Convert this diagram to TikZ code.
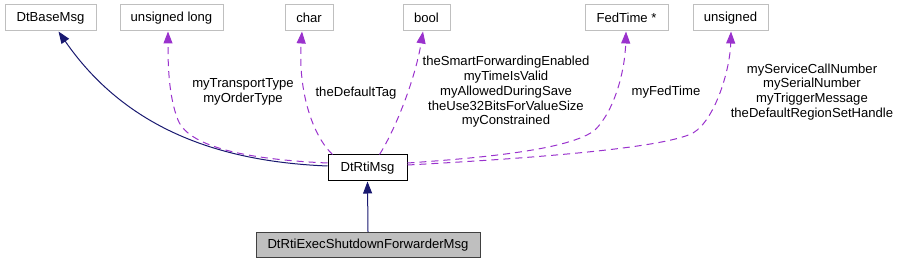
\documentclass[tikz,border=0pt]{standalone}
\usepackage{fontspec}
\setmainfont{Liberation Sans}
\usetikzlibrary{arrows.meta}
\definecolor{navyedge}{HTML}{191970}
\definecolor{orchidedge}{HTML}{9A32CD}
\definecolor{boxgrey}{HTML}{BFBFBF}
\definecolor{focusborder}{HTML}{404040}
\newcommand{\lblfont}{\fontsize{13.1}{14.8}\selectfont}
\tikzset{
  typebox/.style={draw=boxgrey, fill=white, line width=1pt, minimum height=26pt, inner sep=0pt, font=\lblfont},
  classbox/.style={draw=black, fill=white, line width=1pt, minimum height=26pt, inner sep=0pt, font=\lblfont},
  focusbox/.style={draw=focusborder, fill=boxgrey, line width=1pt, minimum height=25pt, inner sep=0pt, font=\lblfont},
  inherit/.style={draw=navyedge, line width=1pt, -{Triangle[length=12pt,width=9pt]}},
  member/.style={draw=orchidedge, line width=1pt, dash pattern=on 7pt off 5pt, -{Triangle[length=12pt,width=9pt]}},
  edgelabel/.style={align=center, inner sep=0pt, font=\lblfont}
}
\begin{document}
\begin{tikzpicture}[x=1pt,y=-1pt]
\useasboundingbox (0,0) rectangle (899,264);
% type / base boxes
\node[typebox, minimum width=91pt] (base) at (50.5,18) {DtBaseMsg};
\node[typebox, minimum width=103pt] (ulong) at (171.5,18) {unsigned long};
\node[typebox, minimum width=48pt] (char) at (309,18) {char};
\node[typebox, minimum width=47pt] (bool) at (426.5,18) {bool};
\node[typebox, minimum width=83pt] (fedtime) at (626.5,18) {FedTime *};
\node[typebox, minimum width=75pt] (unsig) at (730.5,18) {unsigned};
% classes
\node[classbox, minimum width=79pt] (rti) at (367.5,168) {DtRtiMsg};
\node[focusbox, minimum width=224pt] (exec) at (368,245) {DtRtiExecShutdownForwarderMsg};
% inheritance
\draw[inherit] (exec.north) -- (rti.south);
\draw[inherit] ([yshift=2pt]rti.west) .. controls (230,162) and (130,135) .. ([xshift=8pt]base.south);
% members
\draw[member] ([yshift=5pt]rti.west) .. controls (260,160) and (190,150) .. (178,120)
   .. controls (168,95) and (168,60) .. ([xshift=-3.5pt]ulong.south);
\draw[member] ([xshift=5pt]rti.north west) .. controls (312,135) and (298,90) .. ([xshift=-7pt]char.south);
\draw[member] ([xshift=12pt]rti.north) .. controls (395,130) and (415,80) .. ([xshift=-3.5pt]bool.south);
\draw[member] ([yshift=5pt]rti.east) .. controls (480,158) and (570,150) .. (595,130)
   .. controls (615,110) and (625,70) .. ([xshift=-0.5pt]fedtime.south);
\draw[member] ([yshift=3pt]rti.east) .. controls (500,160) and (660,150) .. (693,133)
   .. controls (715,120) and (730,70) .. ([xshift=0.5pt]unsig.south);
% labels
\node[edgelabel] (lulong) at (243,92) {myTransportType\\myOrderType};
\node[edgelabel] (lchar) at (356,93) {theDefaultTag};
\node[edgelabel] (lbool) at (506,92) {theSmartForwardingEnabled\\myTimeIsValid\\myAllowedDuringSave\\theUse32BitsForValueSize\\myConstrained};
\node[edgelabel] (lfed) at (666,92) {myFedTime};
\node[edgelabel] (lunsig) at (812,92) {myServiceCallNumber\\mySerialNumber\\myTriggerMessage\\theDefaultRegionSetHandle};
\end{tikzpicture}
\end{document}
